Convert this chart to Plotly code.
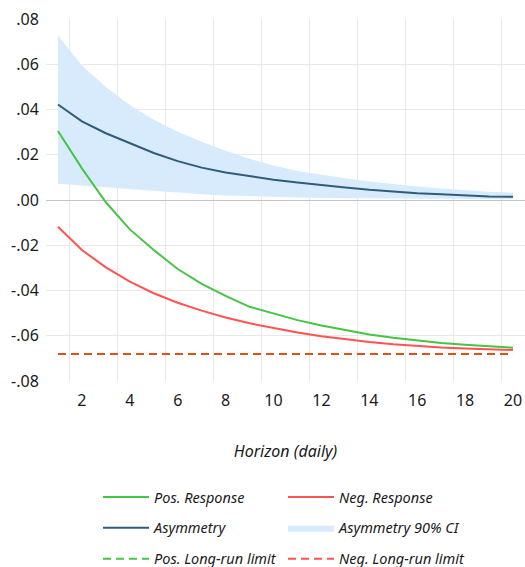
import plotly.graph_objects as go

# Impulse-response horizon (days)
horizon = list(range(1, 21))

# Cumulative responses to positive / negative shocks
pos_response = [0.0305, 0.0140, -0.0010, -0.0130, -0.0221, -0.0305, -0.0371, -0.0424, -0.0472, -0.0503,
                -0.0531, -0.0555, -0.0576, -0.0594, -0.0609, -0.0622, -0.0632, -0.0640, -0.0647, -0.0653]
neg_response = [-0.0118, -0.0221, -0.0298, -0.0361, -0.0412, -0.0454, -0.0489, -0.0519, -0.0545, -0.0567,
                -0.0586, -0.0602, -0.0616, -0.0628, -0.0638, -0.0646, -0.0652, -0.0656, -0.0660, -0.0663]

# Asymmetry (pos - neg) and its 90% confidence band
asymmetry = [0.0422, 0.0348, 0.0295, 0.0250, 0.0208, 0.0172, 0.0143, 0.0122, 0.0105, 0.0090,
             0.0077, 0.0065, 0.0055, 0.0045, 0.0037, 0.0030, 0.0025, 0.0020, 0.0016, 0.0014]
ci_upper = [0.0726, 0.0595, 0.0500, 0.0420, 0.0355, 0.0302, 0.0258, 0.0218, 0.0182, 0.0152,
            0.0128, 0.0111, 0.0096, 0.0082, 0.0070, 0.0060, 0.0051, 0.0043, 0.0037, 0.0032]
ci_lower = [0.0072, 0.0064, 0.0056, 0.0048, 0.0040, 0.0032, 0.0025, 0.0020, 0.0016, 0.0013,
            0.0011, 0.0009, 0.0008, 0.0007, 0.0006, 0.0005, 0.0005, 0.0004, 0.0004, 0.0003]

# Long-run multipliers
pos_lr_limit = -0.0681
neg_lr_limit = -0.0681

# Axis ticks: labels on even horizons, grid lines between periods
x_ticks = [2, 4, 6, 8, 10, 12, 14, 16, 18, 20]
x_ticklabels = ["2", "4", "6", "8", "10", "12", "14", "16", "18", "20"]
x_gridlines = [1.5, 3.5, 5.5, 7.5, 9.5, 11.5, 13.5, 15.5, 17.5, 19.5]
y_ticks = [-0.08, -0.06, -0.04, -0.02, 0.0, 0.02, 0.04, 0.06, 0.08]
y_ticklabels = ["-.08", "-.06", "-.04", "-.02", ".00", ".02", ".04", ".06", ".08"]

GREEN = "#45c445"
RED = "#ff5252"
BLUE = "#2f5d78"
BAND = "#d8ebfd"
LIMIT = "#d9531f"
FONT = "Noto Sans"

fig = go.Figure()

# Confidence band
fig.add_trace(go.Scatter(x=horizon, y=ci_lower, mode="lines", line=dict(width=0),
                         showlegend=False, hoverinfo="skip"))
fig.add_trace(go.Scatter(x=horizon, y=ci_upper, mode="lines", line=dict(width=0),
                         fill="tonexty", fillcolor=BAND, name="Asymmetry 90% CI",
                         legend="legend2", legendgroup="ci", legendrank=2))

fig.add_trace(go.Scatter(x=horizon, y=asymmetry, mode="lines", line=dict(color=BLUE, width=2),
                         name="Asymmetry", legend="legend", legendgroup="asym", legendrank=2))
fig.add_trace(go.Scatter(x=horizon, y=pos_response, mode="lines", line=dict(color=GREEN, width=2),
                         name="Pos. Response", legend="legend", legendgroup="pos", legendrank=1))
fig.add_trace(go.Scatter(x=horizon, y=neg_response, mode="lines", line=dict(color=RED, width=2),
                         name="Neg. Response", legend="legend2", legendgroup="neg", legendrank=1))

# Long-run limits (drawn lines)
fig.add_trace(go.Scatter(x=horizon, y=[pos_lr_limit] * len(horizon), mode="lines",
                         line=dict(color=GREEN, width=2, dash="8px,5px"),
                         showlegend=False, hoverinfo="skip"))
fig.add_trace(go.Scatter(x=horizon, y=[neg_lr_limit] * len(horizon), mode="lines",
                         line=dict(color=LIMIT, width=2, dash="8px,5px"),
                         showlegend=False, hoverinfo="skip"))

# Legend keys for the limits (on the labelled x axis)
fig.add_trace(go.Scatter(x=[None], y=[None], mode="lines", xaxis="x2",
                         line=dict(color=GREEN, width=2, dash="8px,5px"),
                         name="Pos. Long-run limit", legend="legend", legendgroup="plr", legendrank=3))
fig.add_trace(go.Scatter(x=[None], y=[None], mode="lines", xaxis="x2",
                         line=dict(color=RED, width=2, dash="8px,5px"),
                         name="Neg. Long-run limit", legend="legend2", legendgroup="nlr", legendrank=3))

legend_common = dict(
    orientation="v", xref="container", yref="container", xanchor="left", yanchor="top",
    font=dict(family=FONT, size=14.5, color="#1a1a1a", style="italic"),
    bgcolor="rgba(0,0,0,0)", traceorder="grouped", tracegroupgap=9, itemwidth=46,
)

fig.update_layout(
    width=525, height=567,
    margin=dict(l=46, r=0, t=19, b=186, autoexpand=False),
    paper_bgcolor="white", plot_bgcolor="white",
    font=dict(family=FONT, size=16, color="#1a1a1a"),
    showlegend=True,
    legend=dict(x=98 / 525, y=1 - 481 / 567, **legend_common),
    legend2=dict(x=283 / 525, y=1 - 481 / 567, **legend_common),
    # grid-line axis
    xaxis=dict(
        type="linear", range=[0.5, 20.5], tickmode="array", tickvals=x_gridlines,
        ticktext=[""] * len(x_gridlines), showticklabels=False,
        showgrid=True, gridcolor="#e8e8e8", gridwidth=1, zeroline=False, showline=False,
        ticks="",
    ),
    # labelled axis
    xaxis2=dict(
        type="linear", overlaying="x", matches="x", anchor="y", side="bottom",
        range=[0.5, 20.5], tickmode="array", tickvals=x_ticks, ticktext=x_ticklabels,
        showgrid=False, zeroline=False, showline=False,
        ticks="outside", ticklen=5, tickcolor="rgba(0,0,0,0)",
        tickfont=dict(family=FONT, size=16),
        title=dict(text="Horizon (daily)", standoff=35,
                   font=dict(family=FONT, size=16, style="italic")),
    ),
    yaxis=dict(
        range=[-0.08, 0.08], tickmode="array", tickvals=y_ticks, ticktext=y_ticklabels,
        showgrid=True, gridcolor="#e8e8e8", gridwidth=1,
        zeroline=True, zerolinecolor="#c4c4c4", zerolinewidth=1, showline=False,
        ticks="outside", ticklen=3, tickcolor="rgba(0,0,0,0)",
        tickfont=dict(family=FONT, size=16),
    ),
)

fig.write_html("out.html")
